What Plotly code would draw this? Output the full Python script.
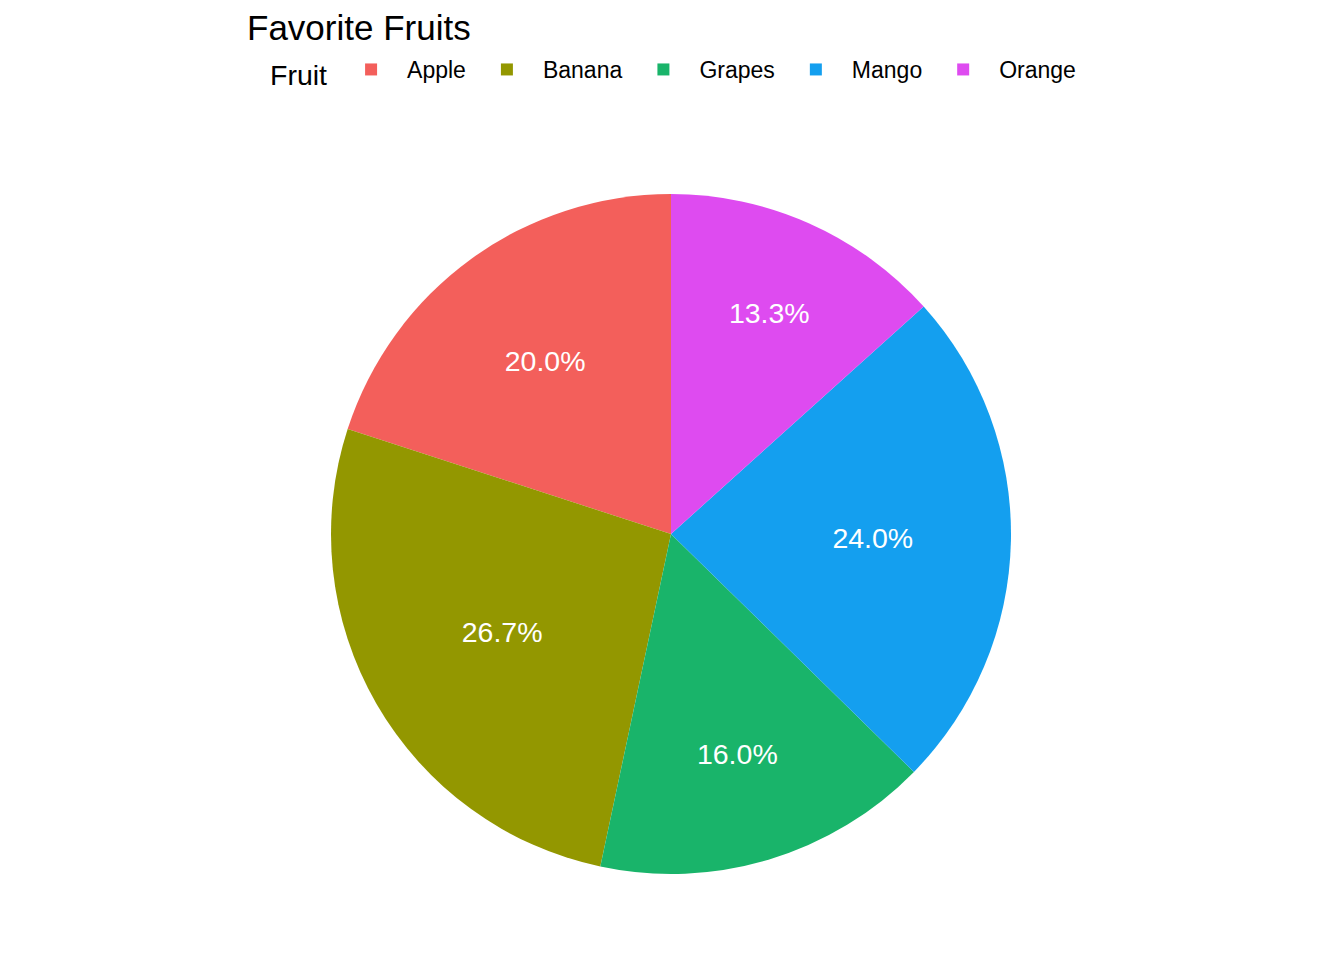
import plotly.graph_objects as go

fruits = ["Apple", "Banana", "Grapes", "Mango", "Orange"]
counts = [15, 20, 12, 18, 10]
colors = ["#F35F5B", "#939700", "#19B46A", "#149FEF", "#DE4BF0"]

W, H = 1344, 960
cx, cy, r = 663, 526, 340  # figure px (page has 8px body margin)

FONT = "Liberation Sans, Arial, sans-serif"

fig = go.Figure(go.Pie(
    labels=fruits,
    values=counts,
    sort=False,
    direction="counterclockwise",
    rotation=-360 * counts[0] / sum(counts),
    marker=dict(colors=colors, line=dict(width=0)),
    texttemplate="%{percent:.1%}",
    textposition="inside",
    insidetextorientation="horizontal",
    textfont=dict(color="white", size=28.5, family=FONT),
    domain=dict(x=[(cx - r) / W, (cx + r) / W], y=[(H - cy - r) / H, (H - cy + r) / H]),
    hoverinfo="label+value+percent",
))

fig.update_layout(
    width=W, height=H,
    margin=dict(l=0, r=0, t=0, b=0),
    paper_bgcolor="white",
    font=dict(family=FONT, color="black"),
    title=dict(text="Favorite Fruits", x=239 / W, xanchor="left", y=1 - 20 / H, yanchor="middle",
               font=dict(size=35, color="black")),
    legend=dict(
        orientation="h",
        x=260 / W, xanchor="left",
        y=1 - 64 / H, yanchor="middle",
        title=dict(text="Fruit", font=dict(size=28.5), side="left"),
        font=dict(size=23),
        itemwidth=62,
        traceorder="normal",
    ),
)

fig.write_html("out.html")
